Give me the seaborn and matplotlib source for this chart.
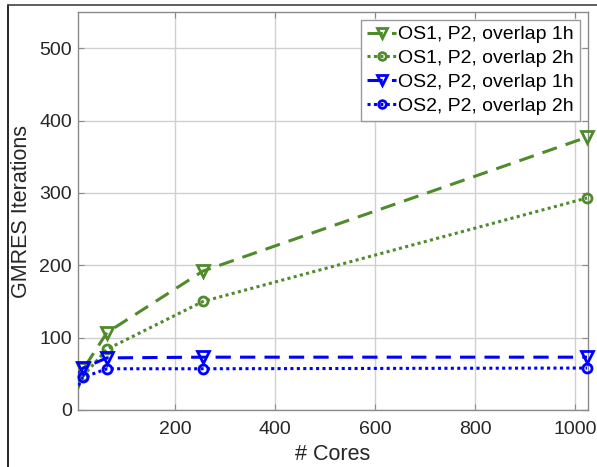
import numpy as np
import pandas as pd
import matplotlib
matplotlib.use('Agg')
import matplotlib.pyplot as plt
from matplotlib.lines import Line2D
import seaborn as sns

# Data
cores = [1, 16, 64, 256, 1024]
os1_1h = [30, 56, 107, 192, 377]
os1_2h = [22, 47, 84, 150, 293]
os2_1h = [45, 58, 72, 73, 73]
os2_2h = [26, 45, 57, 57, 58]

labels = ['OS1, P2, overlap 1h', 'OS1, P2, overlap 2h',
          'OS2, P2, overlap 1h', 'OS2, P2, overlap 2h']
series = [os1_1h, os1_2h, os2_1h, os2_2h]

green = '#4f8a2b'
blue = '#0000ff'
colors = [green, green, blue, blue]
dashes = [(0, (5, 3)), (0, (1, 1.1)), (0, (5, 3)), (0, (1, 1.1))]
markers = ['v', 'o', 'v', 'o']
msizes = [8, 6.5, 8, 6.5]

sns.set_style('white')
plt.rcParams['font.family'] = ['Liberation Sans', 'DejaVu Sans']

fig = plt.figure(figsize=(5.97, 4.67), dpi=100)
ax = fig.add_axes([78 / 597, 1 - 410 / 467, 510 / 597, 398 / 467])

xmin, xmax = 6, 1026
x = np.array(cores)
handles = []
for vals, lab, c, ls, m, ms in zip(series, labels, colors, dashes, markers, msizes):
    df = pd.DataFrame({'cores': cores, 'iters': vals})
    sns.lineplot(data=df, x='cores', y='iters', ax=ax, color=c, linestyle=ls,
                 linewidth=2.2, zorder=3)
    vis = df[(x >= xmin)]
    sns.lineplot(data=vis, x='cores', y='iters', ax=ax, color=c, linestyle='',
                 marker=m, markersize=ms, markerfacecolor='none',
                 markeredgecolor=c, markeredgewidth=2, clip_on=False, zorder=4)
    handles.append(Line2D([], [], color=c, linestyle=ls, linewidth=2.2, marker=m,
                          markersize=ms - 1, markerfacecolor='none', markeredgecolor=c,
                          markeredgewidth=2))

ax.set_xlim(xmin, xmax)
ax.set_ylim(0, 550)
ax.set_xticks([200, 400, 600, 800, 1000])
ax.set_yticks([0, 100, 200, 300, 400, 500])
ax.grid(True, color='#d0d0d0', linewidth=1)
ax.set_axisbelow(True)
for s in ax.spines.values():
    s.set_visible(True)
    s.set_color('#8a8a8a')
    s.set_linewidth(1)
ax.tick_params(axis='both', direction='in', length=4, color='#8a8a8a',
               labelsize=14, labelcolor='#262626', top=True, right=True,
               bottom=True, left=True, labeltop=False, labelright=False)
ax.tick_params(axis='x', pad=8)
ax.tick_params(axis='y', pad=4.5)
ax.set_xlabel('# Cores', fontsize=15.5, color='#262626', labelpad=4)
ax.set_ylabel('GMRES Iterations', fontsize=15.5, color='#262626', labelpad=5)

leg = ax.legend(handles, labels, loc='upper right', bbox_to_anchor=(0.984, 0.98),
                borderaxespad=0, fontsize=14, handlelength=1.5,
                handletextpad=0.1, labelspacing=0.32, borderpad=0.3,
                fancybox=False, framealpha=1, edgecolor='#9a9a9a')
leg.get_frame().set_linewidth(1)
for t in leg.get_texts():
    t.set_color('black')

# screenshot border
fig.add_artist(Line2D([8 / 597, 8 / 597], [0, 1 - 5 / 467], transform=fig.transFigure,
                      color='black', linewidth=1.2))
fig.add_artist(Line2D([8 / 597, 1], [1 - 5 / 467, 1 - 5 / 467], transform=fig.transFigure,
                      color='#444444', linewidth=1.2))

fig.savefig('out.png', dpi=100, facecolor='white')
